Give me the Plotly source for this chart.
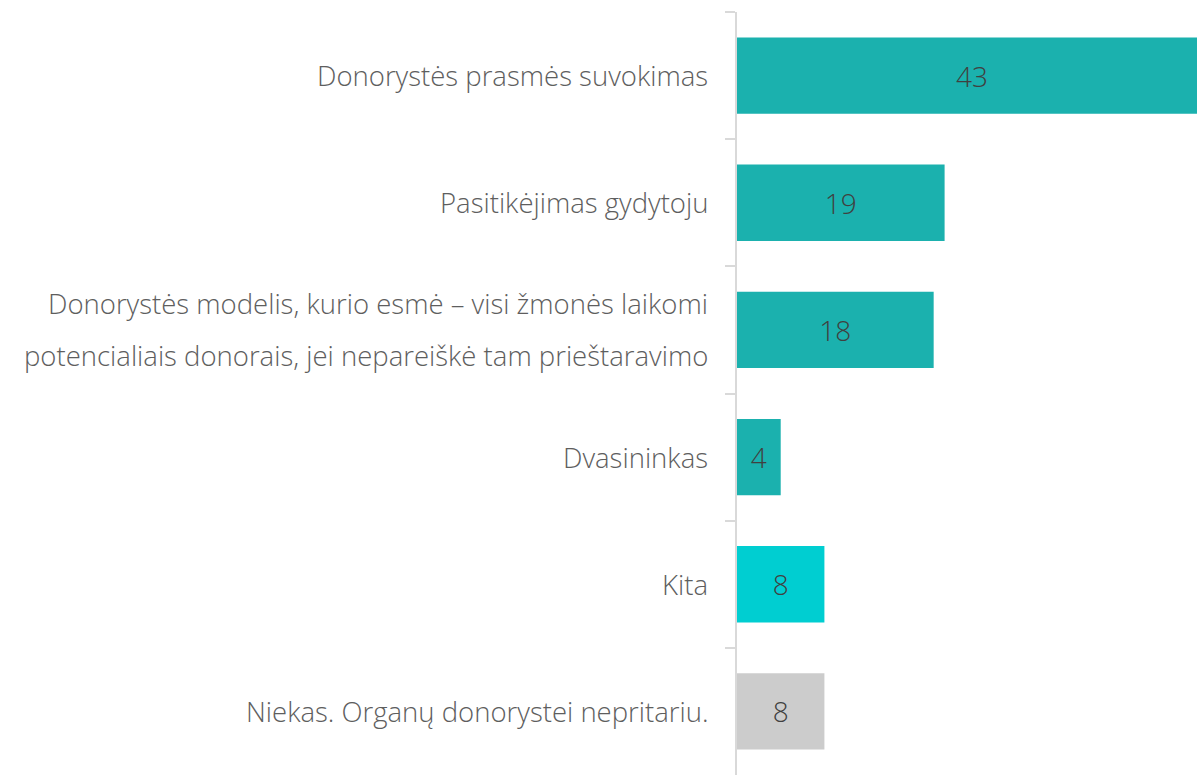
import plotly.graph_objects as go

categories = [
    "Donorystės prasmės suvokimas",
    "Pasitikėjimas gydytoju",
    "Donorystės modelis, kurio esmė – visi žmonės laikomi\npotencialiais donorais, jei nepareiškė tam prieštaravimo",
    "Dvasininkas",
    "Kita",
    "Niekas. Organų donorystei nepritariu.",
]
values = [43, 19, 18, 4, 8, 8]
colors = ["#1bb1ae", "#1bb1ae", "#1bb1ae", "#1bb1ae", "#00ced1", "#cccccc"]

LABEL_FONT = dict(family="Open Sans", size=27.5, color="#5e5e5e", weight=300)

fig = go.Figure(
    go.Bar(
        x=values,
        y=categories,
        orientation="h",
        marker=dict(color=colors, line=dict(width=0)),
        text=[str(v) for v in values],
        textposition="inside",
        insidetextanchor="middle",
        textangle=0,
        textfont=dict(family="Open Sans", size=28, color="#404040", weight=300),
        cliponaxis=True,
        hoverinfo="skip",
    )
)

# category labels as annotations (allows the wider line spacing of the reference)
line_gap = 52
for cat in categories:
    lines = cat.split("\n")
    n = len(lines)
    for i, line in enumerate(lines):
        shift = ((n - 1) / 2 - i) * line_gap
        fig.add_annotation(
            x=0, y=cat, xref="x", yref="y",
            text=line, showarrow=False,
            xanchor="right", yanchor="middle",
            xshift=-27, yshift=shift,
            font=LABEL_FONT,
        )

fig.update_layout(
    width=1197,
    height=775,
    margin=dict(l=737, r=0, t=12, b=0),
    paper_bgcolor="white",
    plot_bgcolor="white",
    bargap=0.4,
    showlegend=False,
    font=dict(family="Open Sans", color="#595959", weight=300),
)
fig.update_xaxes(range=[0, 42.1], visible=False, showgrid=False, zeroline=False)
fig.update_yaxes(
    autorange="reversed",
    showline=True,
    linecolor="#d9d9d9",
    linewidth=2,
    ticks="outside",
    tickson="boundaries",
    ticklen=10,
    tickwidth=2,
    tickcolor="#d9d9d9",
    showticklabels=False,
    showgrid=False,
)

fig.write_html(
    "out.html",
    config={"displayModeBar": False},
    post_script="document.body.style.margin='0';document.body.style.overflow='hidden';",
)
